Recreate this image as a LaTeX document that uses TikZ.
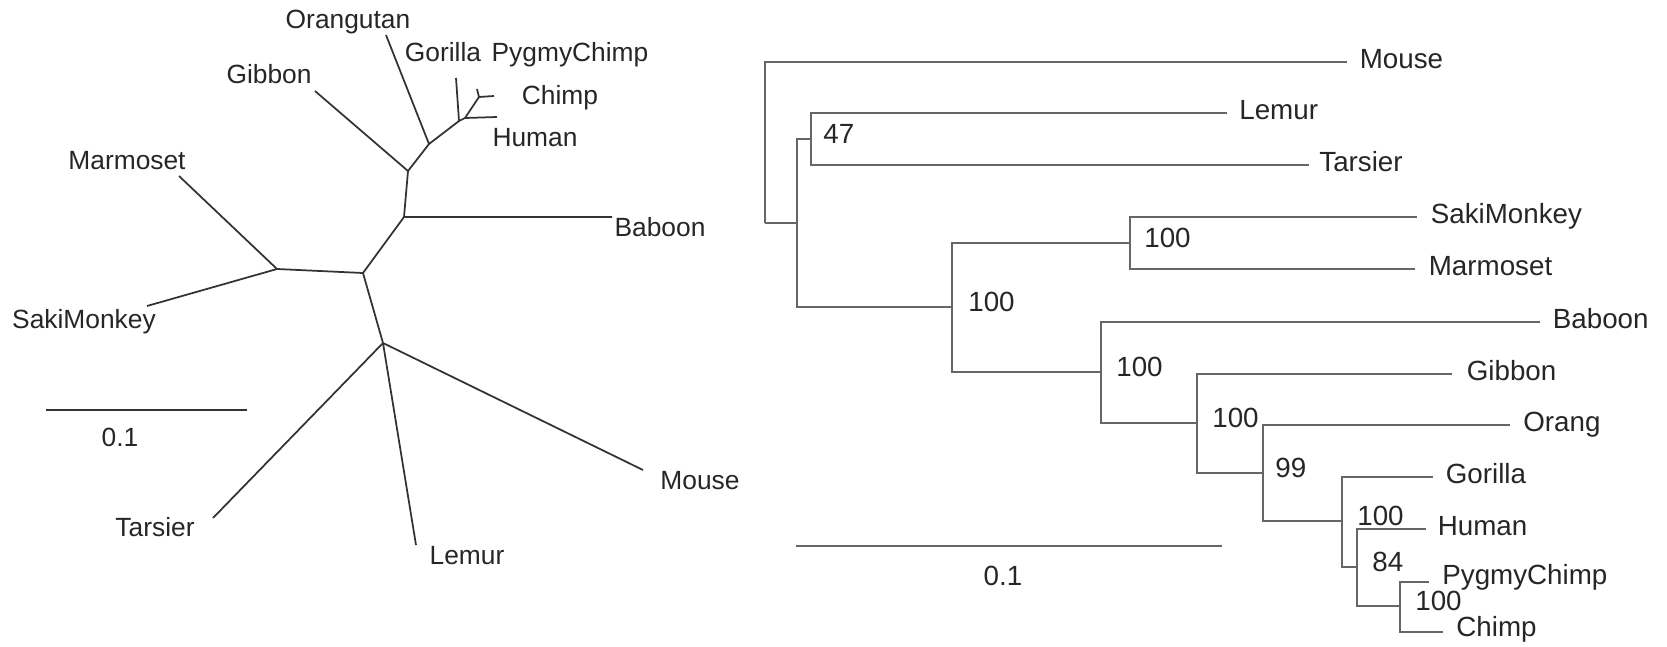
\documentclass[tikz,border=0pt]{standalone}
\usepackage{fontspec}
\setmainfont{Liberation Sans}
\usetikzlibrary{positioning}
\tikzset{
  branch/.style={draw=black!80, line width=0.035cm, line join=round},
  clade/.style={draw=black!60, line width=0.05cm},
  leaf/.style={inner sep=0pt, text height=0.72em, text depth=0pt,
               text=black!85, font=\fontsize{15}{18}\selectfont},
  tip/.style={leaf, anchor=west, font=\fontsize{15.8}{18}\selectfont},
  boot/.style={leaf, anchor=west, yshift=0.04cm,
               font=\fontsize{15.8}{18}\selectfont}
}
\begin{document}
\begin{tikzpicture}[x=0.02cm, y=-0.02cm]
  \useasboundingbox (0,0) rectangle (1667,646);
  % unrooted tree
  \coordinate (uOrangutan) at (386,35);
  \coordinate (uGorilla) at (456,78);
  \coordinate (uHuman) at (497,117);
  \coordinate (uChimp) at (494,96);
  \coordinate (uPygmy) at (477,89);
  \coordinate (uGibbon) at (315,91);
  \coordinate (uBaboon) at (612,217);
  \coordinate (uMarmoset) at (179,176);
  \coordinate (uSaki) at (147,306);
  \coordinate (uMouse) at (643,470);
  \coordinate (uLemur) at (416,545);
  \coordinate (uTarsier) at (213,518);
  \coordinate (ua) at (429,144);
  \coordinate (ub) at (459,121);
  \coordinate (uc) at (465,118);
  \coordinate (ud) at (479,97);
  \coordinate (ue) at (408,171);
  \coordinate (uf) at (404,217);
  \coordinate (ug) at (363,273);
  \coordinate (uh) at (277,269);
  \coordinate (ui) at (383,343);
  \draw[branch] (uOrangutan) -- (ua) -- (ub) -- (uGorilla);
  \draw[branch] (ub) -- (uc) -- (uHuman);
  \draw[branch] (uc) -- (ud) -- (uChimp);
  \draw[branch] (ud) -- (uPygmy);
  \draw[branch] (uGibbon) -- (ue) -- (ua);
  \draw[branch] (ue) -- (uf) -- (uBaboon);
  \draw[branch] (uf) -- (ug) -- (uh) -- (uMarmoset);
  \draw[branch] (uh) -- (uSaki);
  \draw[branch] (ug) -- (ui) -- (uMouse);
  \draw[branch] (ui) -- (uLemur);
  \draw[branch] (ui) -- (uTarsier);
  \node[leaf] (luOrangutan) at (348,22) {Orangutan};
  \node[leaf] (luGorilla) at (443,55) {Gorilla};
  \node[leaf] (luPygmy) at (570,55) {PygmyChimp};
  \node[leaf] (luChimp) at (560,98) {Chimp};
  \node[leaf] (luHuman) at (535,140) {Human};
  \node[leaf] (luGibbon) at (269,77) {Gibbon};
  \node[leaf] (luBaboon) at (660,230) {Baboon};
  \node[leaf] (luMarmoset) at (127,163) {Marmoset};
  \node[leaf] (luSaki) at (84,322) {SakiMonkey};
  \node[leaf] (luTarsier) at (155,530) {Tarsier};
  \node[leaf] (luLemur) at (467,558) {Lemur};
  \node[leaf] (luMouse) at (700,483) {Mouse};
  \coordinate (usa) at (46,410);
  \coordinate (usb) at (247,410);
  \draw[branch] (usa) -- (usb);
  \node[leaf] (lus) at (120,440) {0.1};
  % rooted tree
  \coordinate (rRoot) at (765,223);
  \coordinate (rInner) at (797,223);
  \coordinate (rLT) at (811,139);
  \coordinate (rSim) at (952,307);
  \coordinate (rNwm) at (1130,243);
  \coordinate (rCat) at (1101,372);
  \coordinate (rHom) at (1197,423);
  \coordinate (rGreat) at (1263,473);
  \coordinate (rAfr) at (1342,521);
  \coordinate (rHc) at (1357,567);
  \coordinate (rPan) at (1400,606);
  \coordinate (rMouse) at (1347,62);
  \coordinate (rLemur) at (1227,113);
  \coordinate (rTarsier) at (1309,165);
  \coordinate (rSaki) at (1417,217);
  \coordinate (rMarmoset) at (1415,269);
  \coordinate (rBaboon) at (1540,322);
  \coordinate (rGibbon) at (1452,374);
  \coordinate (rOrang) at (1510,425);
  \coordinate (rGorilla) at (1433,477);
  \coordinate (rHuman) at (1426,529);
  \coordinate (rPygmy) at (1429,582);
  \coordinate (rChimp) at (1443,632);
  \draw[clade] (rRoot) |- (rMouse) (rRoot) -- (rInner);
  \draw[clade] (rInner) |- (rLT) (rInner) |- (rSim);
  \draw[clade] (rLT) |- (rLemur) (rLT) |- (rTarsier);
  \draw[clade] (rSim) |- (rNwm) (rSim) |- (rCat);
  \draw[clade] (rNwm) |- (rSaki) (rNwm) |- (rMarmoset);
  \draw[clade] (rCat) |- (rBaboon) (rCat) |- (rHom);
  \draw[clade] (rHom) |- (rGibbon) (rHom) |- (rGreat);
  \draw[clade] (rGreat) |- (rOrang) (rGreat) |- (rAfr);
  \draw[clade] (rAfr) |- (rGorilla) (rAfr) |- (rHc);
  \draw[clade] (rHc) |- (rHuman) (rHc) |- (rPan);
  \draw[clade] (rPan) |- (rPygmy) (rPan) |- (rChimp);
  \node[tip, right=0.25cm of rMouse] (lrMouse) {Mouse};
  \node[tip, right=0.24cm of rLemur] (lrLemur) {Lemur};
  \node[tip, right=0.2cm of rTarsier] (lrTarsier) {Tarsier};
  \node[tip, right=0.27cm of rSaki] (lrSaki) {SakiMonkey};
  \node[tip, right=0.27cm of rMarmoset] (lrMarmoset) {Marmoset};
  \node[tip, right=0.25cm of rBaboon] (lrBaboon) {Baboon};
  \node[tip, right=0.29cm of rGibbon] (lrGibbon) {Gibbon};
  \node[tip, right=0.26cm of rOrang] (lrOrang) {Orang};
  \node[tip, right=0.25cm of rGorilla] (lrGorilla) {Gorilla};
  \node[tip, right=0.23cm of rHuman] (lrHuman) {Human};
  \node[tip, right=0.26cm of rPygmy, yshift=0.08cm] (lrPygmy) {PygmyChimp};
  \node[tip, right=0.26cm of rChimp, yshift=0.04cm] (lrChimp) {Chimp};
  \node[boot, right=0.24cm of rLT] (bLT) {47};
  \node[boot, right=0.28cm of rNwm] (bNwm) {100};
  \node[boot, right=0.32cm of rSim] (bSim) {100};
  \node[boot, right=0.3cm of rCat] (bCat) {100};
  \node[boot, right=0.3cm of rHom] (bHom) {100};
  \node[boot, right=0.24cm of rGreat] (bGreat) {99};
  \node[boot, right=0.3cm of rAfr] (bAfr) {100};
  \node[boot, right=0.3cm of rHc] (bHc) {84};
  \node[boot, right=0.3cm of rPan] (bPan) {100};
  \coordinate (rsa) at (796,546);
  \coordinate (rsb) at (1222,546);
  \draw[clade] (rsa) -- (rsb);
  \node[leaf, font=\fontsize{15.8}{18}\selectfont] (lrs) at (1003,579) {0.1};
\end{tikzpicture}
\end{document}
